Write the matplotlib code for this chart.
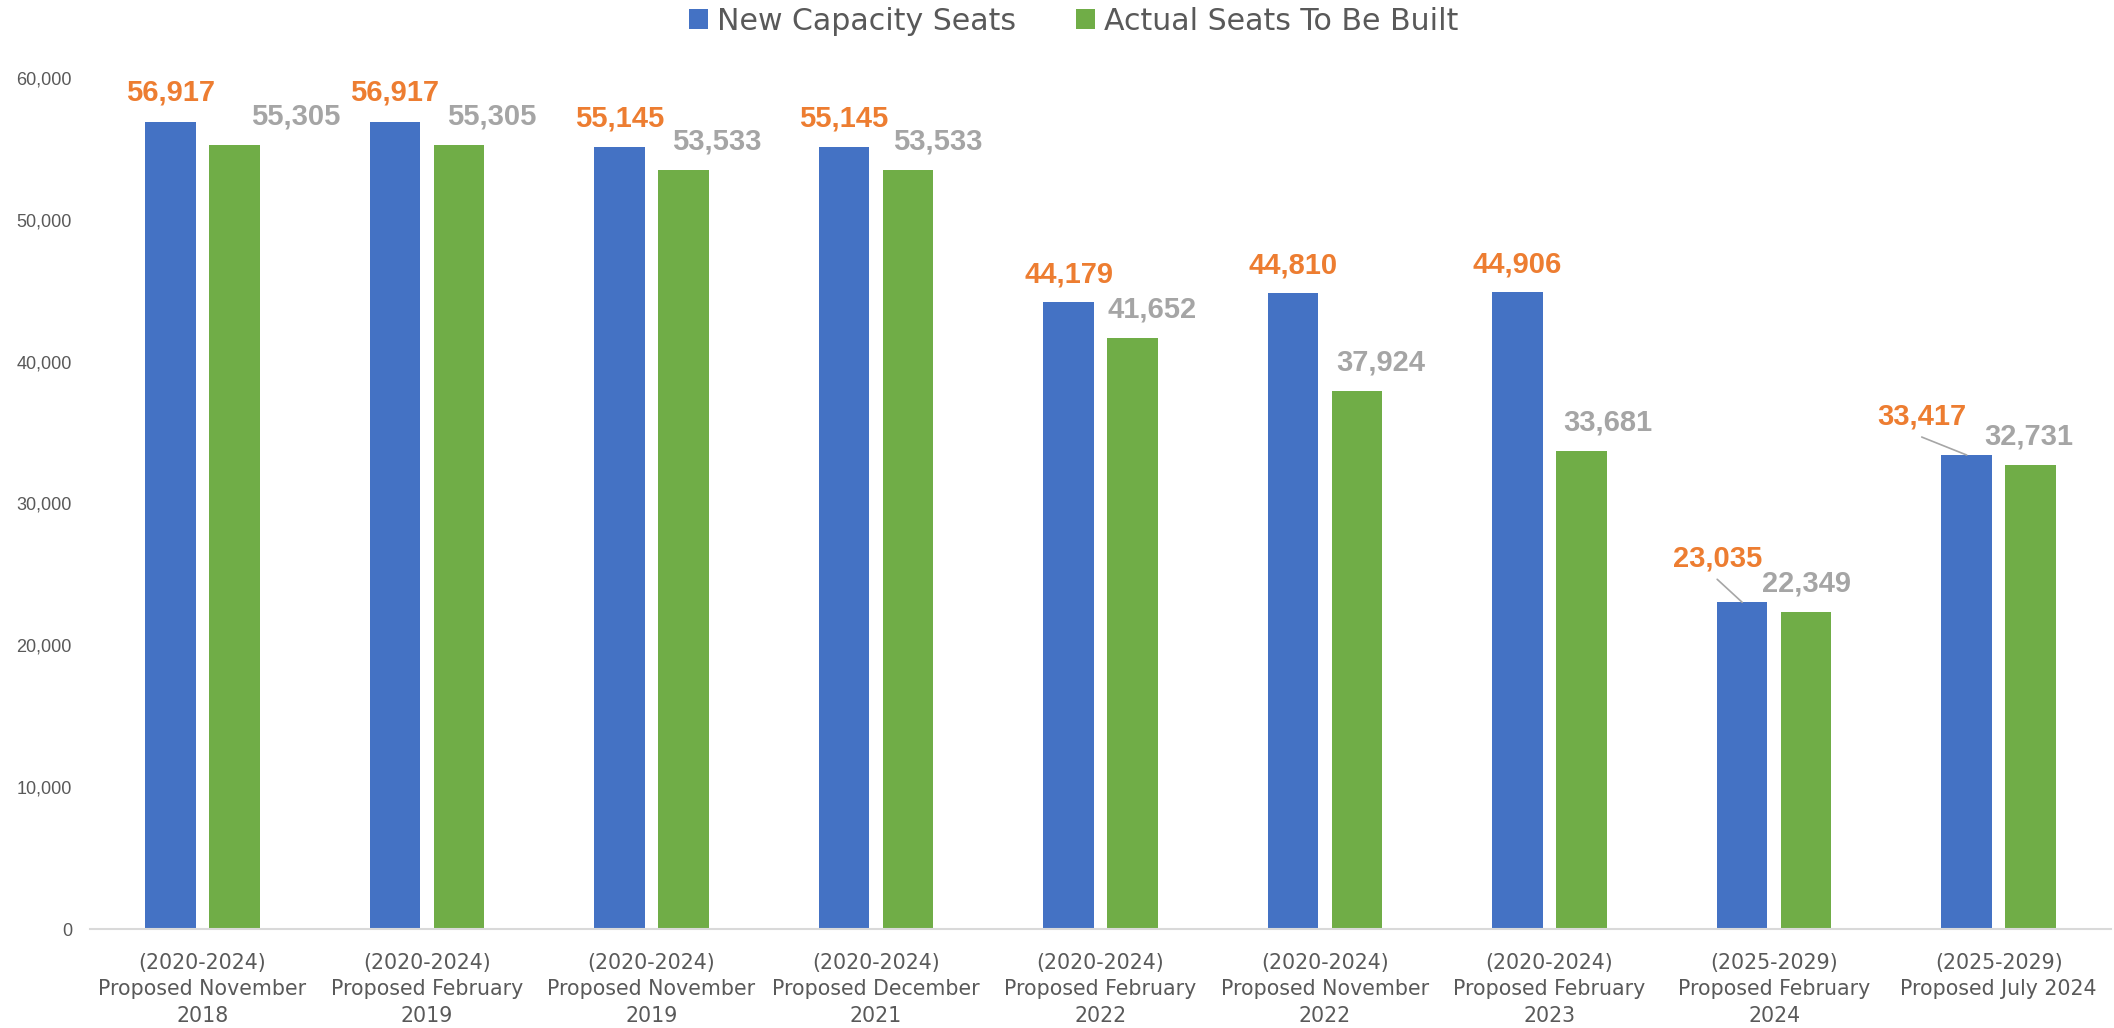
import numpy as np
import matplotlib
matplotlib.use('Agg')
import matplotlib.pyplot as plt
from matplotlib.ticker import FuncFormatter, MultipleLocator


plans = [
    "(2020-2024)\nProposed November\n2018",
    "(2020-2024)\nProposed February\n2019",
    "(2020-2024)\nProposed November\n2019",
    "(2020-2024)\nProposed December\n2021",
    "(2020-2024)\nProposed February\n2022",
    "(2020-2024)\nProposed November\n2022",
    "(2020-2024)\nProposed February\n2023",
    "(2025-2029)\nProposed February\n2024",
    "(2025-2029)\nProposed July 2024",
]
new_capacity = [56917, 56917, 55145, 55145, 44179, 44810, 44906, 23035, 33417]
actual_built = [55305, 55305, 53533, 53533, 41652, 37924, 33681, 22349, 32731]

series_names = ["New Capacity Seats", "Actual Seats To Be Built"]

# colours
BLUE = '#4472C4'
GREEN = '#70AD47'
ORANGE = '#ED7D31'
GREY = '#A5A5A5'
TEXT = '#595959'

# where each value label sits, in pixels from the top of its bar
new_dx = [0, 0, 0, 0, 0, 0, 0, -25, -45]
new_dy = [29, 29, 28, 28, 28, 28, 28, 44, 39]
built_dx = [61, 33, 33, 30, 20, 24, 26, 0, -2]
built_dy = 28.5
leader = [False] * 7 + [True, True]


def add_labels(ax, xs, values, dxs, dys, color, leaders=None):
    for i, (x, v) in enumerate(zip(xs, values)):
        dx = dxs[i]
        dy = dys[i] if np.ndim(dys) else dys
        ax.annotate(f'{v:,}', xy=(x, v), xytext=(dx, dy),
                    textcoords='offset pixels', ha='center', va='center',
                    fontsize=21, fontweight='bold', color=color,
                    family=['Liberation Sans', 'DejaVu Sans'])
        if leaders is not None and leaders[i]:
            ax.annotate('', xy=(x, v), xytext=(dx, dy - 21),
                        textcoords='offset pixels',
                        arrowprops=dict(arrowstyle='-', color='#a6a6a6', lw=1.2,
                                        shrinkA=0, shrinkB=0))


fig = plt.figure(figsize=(21.14, 10.28), dpi=100)
ax = fig.add_axes([90 / 2114, 99 / 1028, 2021 / 2114, 851 / 1028])

x = np.arange(len(plans))
width = 0.225
off = 0.1425

bars_new = ax.bar(x - off, new_capacity, width, color=BLUE, label=series_names[0])
bars_built = ax.bar(x + off, actual_built, width, color=GREEN, label=series_names[1])

add_labels(ax, x - off, new_capacity, new_dx, new_dy, ORANGE, leader)
add_labels(ax, x + off, actual_built, built_dx, built_dy, GREY)

ax.set_xlim(-0.5, len(plans) - 0.5)
ax.set_ylim(0, 60000)
ax.yaxis.set_major_locator(MultipleLocator(10000))
ax.yaxis.set_major_formatter(FuncFormatter(lambda v, p: f'{int(v):,}'))

ax.set_xticks(x)
ax.set_xticklabels(plans, fontsize=14.8, color=TEXT, family='DejaVu Sans',
                   linespacing=1.42)
for lab in ax.get_yticklabels():
    lab.set_fontsize(13)
    lab.set_color(TEXT)
    lab.set_family(['Liberation Sans', 'DejaVu Sans'])

ax.tick_params(axis='x', length=0, pad=17)
ax.tick_params(axis='y', length=0, pad=13)

for side in ['top', 'right', 'left']:
    ax.spines[side].set_visible(False)
ax.spines['bottom'].set_color('#d9d9d9')
ax.spines['bottom'].set_linewidth(1.5)

fig.legend([bars_new, bars_built], series_names, loc='center',
           bbox_to_anchor=(0.508, 1 - 21 / 1028), ncol=2, frameon=False,
           prop=dict(family='DejaVu Sans', size=21.6), labelcolor=TEXT,
           handlelength=0.63, handleheight=0.63, handletextpad=0.3,
           columnspacing=2.0, borderpad=0)

fig.savefig('out.png', dpi=100)
